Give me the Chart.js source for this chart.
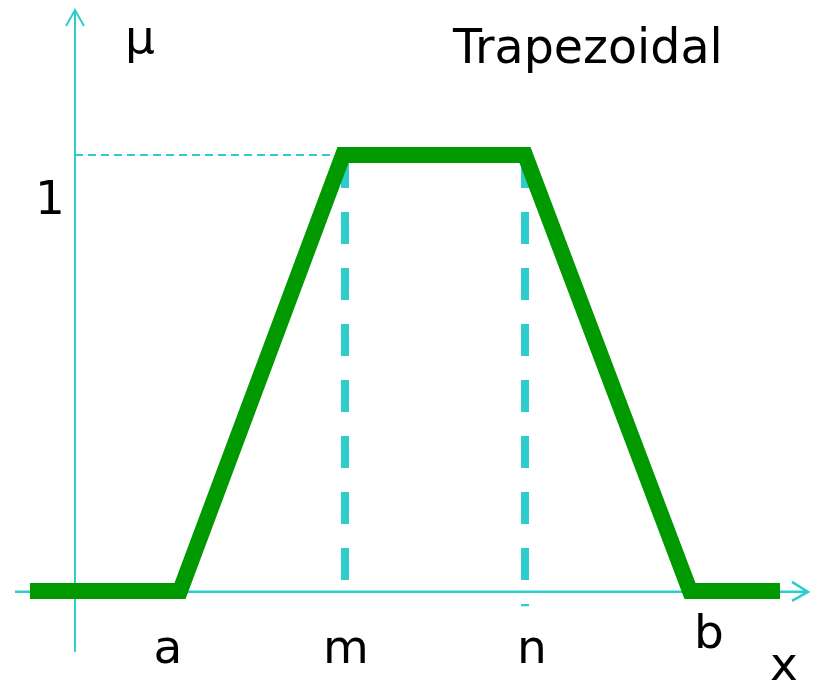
<!DOCTYPE html>
<html>
<head>
<meta charset="utf-8">
<script src="https://cdn.jsdelivr.net/npm/chart.js@4/dist/chart.umd.min.js"></script>
<style>
    html, body { margin: 0; padding: 0; background: #fff; }
    #wrap { width: 816px; height: 681px; position: relative; }
</style>
</head>
<body>
<div id="wrap"><canvas id="chart" width="816" height="681"></canvas></div>
<script>
(function () {
    "use strict";

    // membership function breakpoints
    const xValues = [30, 180, 343, 525, 690, 780];
    const muValues = [0, 0, 1, 1, 0, 0];

    // tick labels under the x axis
    const tickLabels = ["a", "m", "n", "b"];
    const tickValues = [180, 345, 525, 690];

    // dashed guides at m and n
    const guideValues = [345, 525];
    const guideEnds = [-0.02, -0.035];

    const cyan = "#2ecdcd";
    const green = "#009900";
    const font = '"DejaVu Sans", Verdana, sans-serif';

    const axesPlugin = {
        id: "axes",
        beforeDatasetsDraw(chart) {
            const ctx = chart.ctx;
            const x = chart.scales.x;
            const y = chart.scales.y;
            const ox = x.getPixelForValue(75);
            const oy = y.getPixelForValue(-0.002);
            ctx.save();
            ctx.strokeStyle = cyan;
            ctx.lineCap = "butt";

            // y axis
            ctx.lineWidth = 2;
            ctx.beginPath();
            ctx.moveTo(ox, 652);
            ctx.lineTo(ox, 10);
            ctx.moveTo(ox - 9, 26);
            ctx.lineTo(ox, 10);
            ctx.lineTo(ox + 9, 26);
            ctx.stroke();

            // x axis
            ctx.lineWidth = 2.5;
            ctx.beginPath();
            ctx.moveTo(15, oy);
            ctx.lineTo(808, oy);
            ctx.moveTo(792, oy - 10);
            ctx.lineTo(808, oy);
            ctx.lineTo(792, oy + 9);
            ctx.stroke();

            // thin dashed line at mu = 1
            const top = y.getPixelForValue(1);
            ctx.lineWidth = 2;
            ctx.setLineDash([8, 5]);
            ctx.beginPath();
            ctx.moveTo(ox, top);
            ctx.lineTo(x.getPixelForValue(guideValues[0]) - 4, top);
            ctx.stroke();

            // thick dashed guides
            ctx.lineWidth = 8;
            ctx.setLineDash([32, 24]);
            guideValues.forEach((v, i) => {
                const px = x.getPixelForValue(v);
                ctx.beginPath();
                ctx.moveTo(px, top + 1);
                ctx.lineTo(px, y.getPixelForValue(guideEnds[i]));
                ctx.stroke();
            });
            ctx.restore();
        },
        afterDatasetsDraw(chart) {
            const ctx = chart.ctx;
            const x = chart.scales.x;
            ctx.save();
            ctx.fillStyle = "#000";
            ctx.textAlign = "center";
            ctx.textBaseline = "alphabetic";
            ctx.font = "47px " + font;

            const offsets = [[-12, 663], [1, 663], [7, 663], [19, 648]];
            tickLabels.forEach((t, i) => {
                ctx.fillText(t, x.getPixelForValue(tickValues[i]) + offsets[i][0], offsets[i][1]);
            });
            ctx.fillText("x", 784, 680);
            ctx.fillText("μ", 140, 53);
            ctx.fillText("1", 50, 214);

            ctx.textAlign = "left";
            ctx.font = "47.5px " + font;
            ctx.fillText("Trapezoidal", 453, 63);
            ctx.restore();
        },
    };

    new Chart(document.getElementById("chart"), {
        type: "line",
        data: {
            datasets: [
                {
                    data: xValues.map((v, i) => ({ x: v, y: muValues[i] })),
                    borderColor: green,
                    borderWidth: 16,
                    borderJoinStyle: "miter",
                    borderCapStyle: "butt",
                    pointRadius: 0,
                    tension: 0,
                    fill: false,
                },
            ],
        },
        options: {
            responsive: false,
            animation: false,
            events: [],
            layout: { padding: 0 },
            plugins: {
                legend: { display: false },
                tooltip: { enabled: false },
            },
            scales: {
                x: { type: "linear", min: 0, max: 816, display: false },
                y: { type: "linear", min: -90 / 436, max: 1 + 155 / 436, display: false },
            },
        },
        plugins: [axesPlugin],
    });
})();
</script>
</body>
</html>
